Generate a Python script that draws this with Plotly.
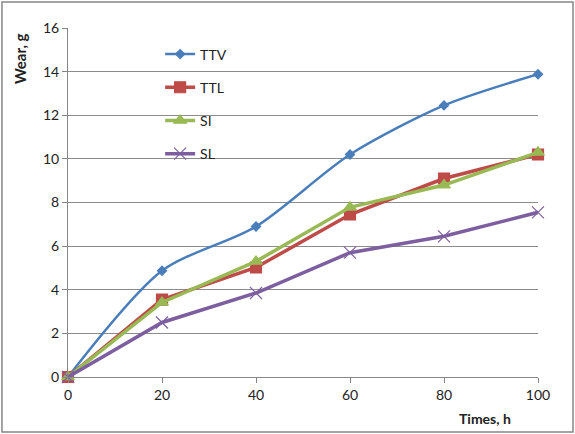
import plotly.graph_objects as go

times = [0, 20, 40, 60, 80, 100]
ttv = [0, 4.87, 6.9, 10.2, 12.45, 13.88]
ttl = [0, 3.55, 5.02, 7.45, 9.1, 10.2]
si = [0, 3.42, 5.3, 7.78, 8.8, 10.3]
sl = [0, 2.5, 3.85, 5.7, 6.45, 7.55]

series = [
    ("TTV", ttv, "#4A7EBB", "diamond", 7, 2.5, "spline"),
    ("TTL", ttl, "#BE4B48", "square", 11, 3.5, "linear"),
    ("SI", si, "#98B954", "triangle-up", 11, 3.5, "linear"),
    ("SL", sl, "#7D5FA0", "x-thin-open", 12, 3.5, "linear"),
]

fig = go.Figure()
for name, vals, color, sym, msize, lw, shape in series:
    fig.add_trace(go.Scatter(
        x=times, y=vals, name=name, mode="lines+markers",
        line=dict(color=color, width=lw, shape=shape, smoothing=0.8),
        marker=dict(symbol=sym, size=msize, color=color,
                    line=dict(color=color, width=1.2)),
        legendgroup=name, cliponaxis=False,
    ))

fig.update_layout(
    width=575, height=434,
    margin=dict(l=68, r=37, t=28, b=57),
    paper_bgcolor="white", plot_bgcolor="white",
    font=dict(family="Lato, Open Sans, sans-serif", size=14, color="#222"),
    showlegend=True,
    legend=dict(x=0.196, y=0.97, xanchor="left", yanchor="top",
                bgcolor="rgba(0,0,0,0)", tracegroupgap=12,
                font=dict(size=14), itemwidth=30),
    xaxis=dict(range=[0, 100], tickvals=times, showgrid=False,
               showline=True, linecolor="#868686", linewidth=1,
               ticks="outside", ticklen=5, tickcolor="#868686",
               zeroline=False, tickfont=dict(size=14)),
    yaxis=dict(range=[0, 16], dtick=2, showgrid=True, gridcolor="#8c8c8c",
               gridwidth=1, showline=True, linecolor="#868686",
               ticks="outside", ticklen=5, tickcolor="#868686",
               zeroline=False, tickfont=dict(size=14)),
    annotations=[
        dict(text="<b>Wear, g</b>", xref="paper", yref="paper",
             x=-0.102, y=0.99, textangle=-90, showarrow=False,
             xanchor="center", yanchor="top", font=dict(size=15)),
        dict(text="<b>Times, h</b>", xref="paper", yref="paper",
             x=0.887, y=-0.12, showarrow=False,
             xanchor="center", yanchor="middle", font=dict(size=14)),
    ],
    shapes=[dict(type="rect", xref="paper", yref="paper",
                 x0=-0.1405, x1=1.0745, y0=-0.1575, y1=1.0745,
                 line=dict(color="#868686", width=1.5))],
)

fig.write_html("out.html", config={"displayModeBar": False},
               post_script="document.body.style.margin='0';")
